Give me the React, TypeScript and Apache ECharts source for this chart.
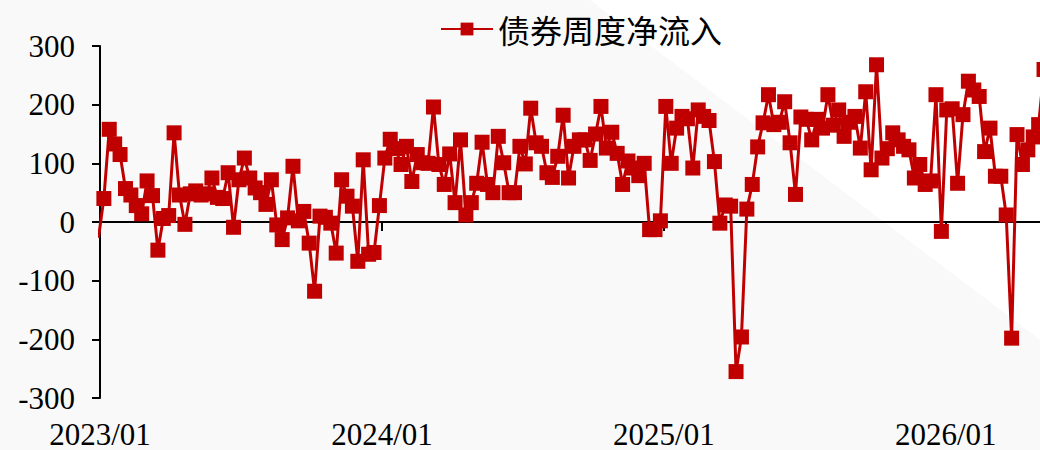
import React, { useEffect, useRef } from "react";
import * as echarts from "echarts";

// weekly observations (Fridays), first one is the week before the axis start
const firstWeek = "2022-12-30";
const axisStart = "2023-01-01";
const seriesName = "债券周度净流入";
const netInflow: number[] = [
  -27,
  40, 158, 133, 115, 57, 46, 28, 14, 70, 45,
  -48, 6, 11, 152, 46, -4, 48, 53, 46, 48,
  75, 42, 40, 84, -9, 72, 109, 75, 58, 50,
  30, 72, -5, -30, 7, 95, 2, 18, -36, -118,
  10, 8, -2, -53, 72, 44, 27, -67, 106, -55,
  -52, 28, 109, 141, 125, 98, 129, 69, 115, 101,
  100, 196, 98, 64, 116, 33, 140, 12, 33, 66,
  136, 64, 50, 146, 101, 50, 50, 129, 99, 194,
  135, 129, 84, 76, 112, 182, 75, 129, 140, 140,
  105, 150, 197, 126, 153, 117, 64, 104, 92, 79,
  100, -13, -13, 2, 197, 100, 160, 180, 176, 92,
  191, 180, 173, 103, -2, 29, 27, -255, -196, 22,
  64, 128, 169, 217, 166, 170, 205, 135, 47, 179,
  175, 140, 175, 160, 217, 165, 191, 146, 170, 180,
  126, 222, 89, 268, 109, 125, 152, 140, 129, 123,
  75, 98, 64, 70, 217, -16, 191, 193, 66, 183,
  240, 225, 214, 120, 160, 78, 78, 12, -198, 149,
  98, 123, 145, 166, 260,
];
const yMin = -300;
const yMax = 300;
const yStep = 100;

const DAY = 86400000;
const YEAR = 365.25 * DAY;

export default function App() {
  const ref = useRef<HTMLDivElement>(null);
  useEffect(() => {
    if (!ref.current) return;
    const chart = echarts.init(ref.current, null, { renderer: "svg" });
    const t0 = Date.parse(firstWeek + "T00:00:00Z");
    const xmin = Date.parse(axisStart + "T00:00:00Z");
    const xmax = xmin + 1295.5 * DAY;
    const data = netInflow.map((v, i) => [t0 + i * 7 * DAY, v]);
    const fmt = (v: number) => {
      const d = new Date(v + DAY);
      return d.getUTCFullYear() + "/01";
    };
    chart.setOption({
      animation: false,
      backgroundColor: "#f9f9f9",
      graphic: [
        {
          type: "polygon",
          z: -10,
          silent: true,
          shape: { points: [[590, 0], [1100, 0], [1100, 385]] },
          style: { fill: "#ffffff" },
        },
      ],
      legend: {
        data: [seriesName],
        left: 435,
        top: 8,
        itemWidth: 52,
        itemHeight: 16,
        textStyle: { fontSize: 32, fontFamily: "Noto Sans CJK SC", color: "#000" },
      },
      grid: { left: 100, right: 0, top: 46, bottom: 52, containLabel: false },
      xAxis: [
        {
          type: "value",
          min: xmin,
          max: xmax,
          interval: YEAR,
          position: "bottom",
          axisLine: { show: false, onZero: false },
          axisTick: { show: false },
          splitLine: { show: false },
          axisLabel: {
            show: true,
            showMaxLabel: false,
            formatter: fmt,
            fontSize: 31,
            lineHeight: 30,
            fontFamily: "Liberation Serif",
            color: "#000",
            margin: 21,
          },
        },
        {
          type: "value",
          min: xmin,
          max: xmax,
          interval: YEAR,
          position: "bottom",
          axisLine: { show: true, onZero: true, lineStyle: { color: "#000", width: 2 } },
          axisTick: { show: true, inside: false, length: 9, lineStyle: { color: "#000", width: 2 } },
          axisLabel: { show: false },
          splitLine: { show: false },
        },
      ],
      yAxis: {
        type: "value",
        min: yMin,
        max: yMax,
        interval: yStep,
        axisLine: { show: true, lineStyle: { color: "#000", width: 2 } },
        axisTick: { show: true, inside: false, length: 8, lineStyle: { color: "#000", width: 2 } },
        splitLine: { show: false },
        axisLabel: {
          fontSize: 31,
          fontFamily: "Liberation Serif",
          color: "#000",
          margin: 25,
        },
      },
      series: [
        {
          name: seriesName,
          type: "line",
          xAxisIndex: 0,
          data,
          symbol: "rect",
          symbolSize: 15,
          clip: true,
          lineStyle: { color: "#c00000", width: 3 },
          itemStyle: { color: "#c00000" },
        },
      ],
    });
    return () => chart.dispose();
  }, []);
  return (
    <div style={{ position: "absolute", left: 0, top: 0, width: 1040, height: 450, overflow: "hidden" }}>
      <div ref={ref} style={{ width: 1100, height: 450 }} />
    </div>
  );
}
